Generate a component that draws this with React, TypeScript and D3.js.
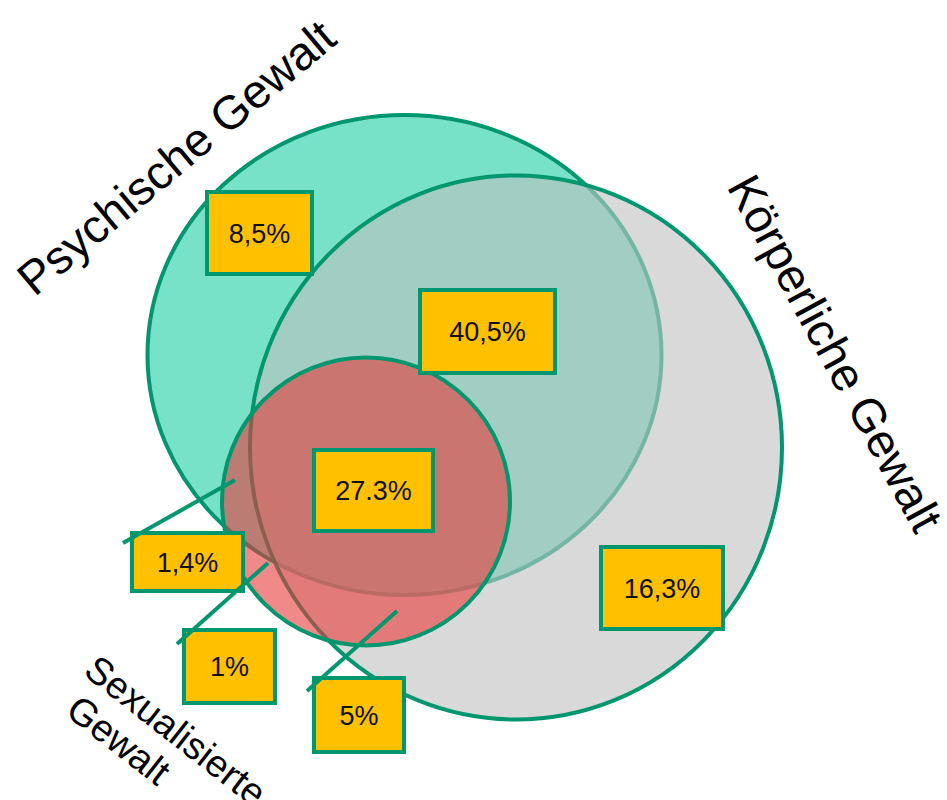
import React from "react";
import * as d3 from "d3";

// ---- data ----
const setNames = ["Psychische Gewalt", "Körperliche Gewalt", "Sexualisierte", "Gewalt"];
const regionKeys = ["P", "PK", "PKS", "PS", "S", "KS", "K"];
const regionValues = ["8,5%", "40,5%", "27.3%", "1,4%", "1%", "5%", "16,3%"];

// ---- layout (geometry & styles) ----
const W = 947;
const H = 800;
const STROKE = "#00976F";
const TEAL = "#78E2C8";
const GRAY = "#D9D9D9";
const OVERLAP = "#A1CDC3";
const FAINT = "#74B5A3";
const RED = "#E83A3A";
const YELLOW = "#FFC000";
const FONT = "'Liberation Sans', Arial, Helvetica, sans-serif";

const shapeP = { cx: 404.5, cy: 355, rx: 257, ry: 240 };
const shapeK = { cx: 516, cy: 447.5, rx: 266, ry: 272 };
const shapeS = { cx: 366, cy: 501.5, rx: 144, ry: 144 };

// box rectangles [x, y, w, h] in the order of regionKeys
const boxRects: [number, number, number, number][] = [
  [207, 192, 105, 82],
  [420, 290, 135, 83],
  [314, 450, 119, 81],
  [132, 533, 111, 58],
  [184, 630, 91, 73],
  [314, 678, 90, 74],
  [601, 547, 122, 82],
];

// leader lines for small regions
const leaders: [number, number][][] = [
  [[123, 543], [235, 480]],
  [[177, 644], [268, 563]],
  [[307, 691], [397, 611]],
];

const lineGen = d3.line<[number, number]>().x((d) => d[0]).y((d) => d[1]);
const x = d3.scaleIdentity();
const y = d3.scaleIdentity();

export default function App() {
  return (
    <svg
      width={W}
      height={H}
      viewBox={`0 0 ${W} ${H}`}
      style={{ position: "absolute", left: 0, top: 0, background: "#fff" }}
    >
      <defs>
        <clipPath id="clipK">
          <ellipse cx={x(shapeK.cx)} cy={y(shapeK.cy)} rx={shapeK.rx} ry={shapeK.ry} />
        </clipPath>
      </defs>
      {/* Psychische */}
      <ellipse
        cx={x(shapeP.cx)}
        cy={y(shapeP.cy)}
        rx={shapeP.rx}
        ry={shapeP.ry}
        fill={TEAL}
        stroke={STROKE}
        strokeWidth={4}
      />
      {/* Körperliche fill */}
      <ellipse cx={x(shapeK.cx)} cy={y(shapeK.cy)} rx={shapeK.rx} ry={shapeK.ry} fill={GRAY} />
      {/* overlap */}
      <g clipPath="url(#clipK)">
        <ellipse
          cx={x(shapeP.cx)}
          cy={y(shapeP.cy)}
          rx={shapeP.rx}
          ry={shapeP.ry}
          fill={OVERLAP}
          stroke={FAINT}
          strokeWidth={4}
        />
      </g>
      <ellipse
        cx={x(shapeK.cx)}
        cy={y(shapeK.cy)}
        rx={shapeK.rx}
        ry={shapeK.ry}
        fill="none"
        stroke={STROKE}
        strokeWidth={4}
      />
      {/* Sexualisierte */}
      <ellipse
        cx={x(shapeS.cx)}
        cy={y(shapeS.cy)}
        rx={shapeS.rx}
        ry={shapeS.ry}
        fill={RED}
        fillOpacity={0.6}
        stroke={STROKE}
        strokeWidth={4}
      />
      {/* boxes */}
      {regionKeys.map((k, i) => {
        const [bx, by, bw, bh] = boxRects[i];
        return (
          <g key={k}>
            <rect x={x(bx)} y={y(by)} width={bw} height={bh} fill={YELLOW} stroke={STROKE} strokeWidth={4} />
            <text
              x={x(bx + bw / 2)}
              y={y(by + bh / 2) + 9.6}
              textAnchor="middle"
              fontFamily={FONT}
              fontSize={27}
              fill="#111"
            >
              {regionValues[i]}
            </text>
          </g>
        );
      })}
      {/* leader lines */}
      {leaders.map((l, i) => (
        <path key={i} d={lineGen(l) || ""} stroke={STROKE} strokeWidth={4} fill="none" />
      ))}
      {/* set titles */}
      <text
        transform="translate(186.6,170) rotate(-40)"
        textAnchor="middle"
        fontFamily={FONT}
        fontSize={47}
        fill="#000"
      >
        {setNames[0]}
      </text>
      <text
        transform="translate(821,361) rotate(61.5)"
        textAnchor="middle"
        fontFamily={FONT}
        fontSize={47}
        fill="#000"
      >
        {setNames[1]}
      </text>
      <text transform="translate(82,674) rotate(38)" fontFamily={FONT} fontSize={38} fill="#000">
        {setNames[2]}
      </text>
      <text transform="translate(64,714) rotate(38)" fontFamily={FONT} fontSize={38} fill="#000">
        {setNames[3]}
      </text>
    </svg>
  );
}
